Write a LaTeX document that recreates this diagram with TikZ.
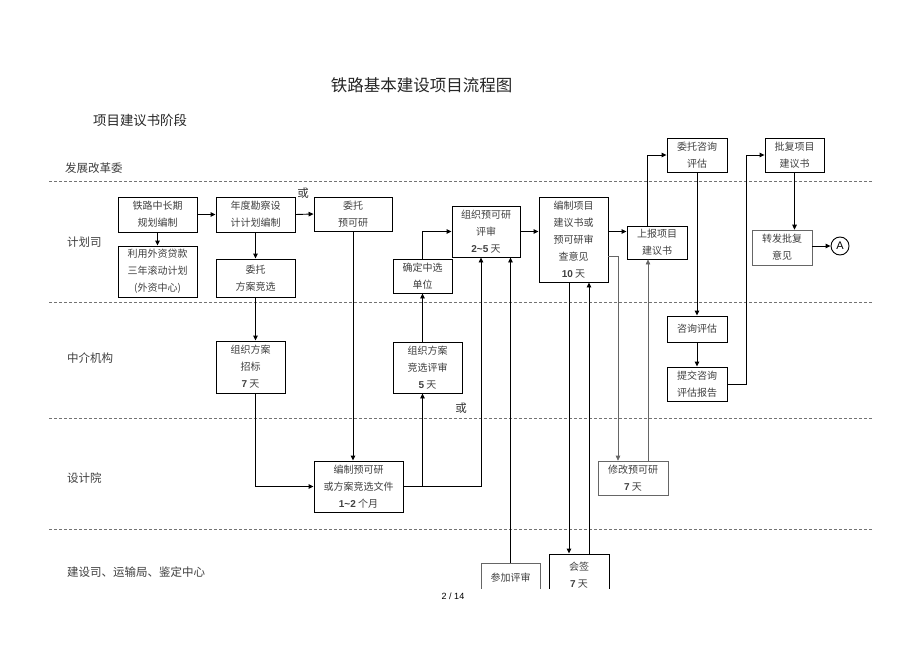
\documentclass[tikz,border=0pt]{standalone}
\usepackage{fontspec}
\setmainfont{Liberation Serif}
\setsansfont{Liberation Sans}
\newfontfamily\cjk{Noto Sans CJK SC}
\usetikzlibrary{arrows.meta}
\newcommand\bnum[1]{{\sffamily\bfseries #1}}
\begin{document}
\begin{tikzpicture}[x=1pt,y=-1pt,
  box/.style={draw=black, line width=0.9pt, fill=white, inner sep=0pt, align=center, text=black!75, font=\cjk\fontsize{10}{17}\selectfont},
  lbox/.style={box, draw=black!60, line width=0.6pt},
  conn/.style={line width=0.9pt, -{Triangle[length=5pt,width=4.5pt]}},
  lconn/.style={conn, draw=black!60, line width=0.6pt},
  plainline/.style={line width=0.9pt},
  lane/.style={draw=black!55, line width=0.6pt, dash pattern=on 3pt off 2pt},
  lanelabel/.style={anchor=west, inner sep=0pt, text=black!75, font=\cjk\fontsize{11.5}{12}\selectfont},
  orlabel/.style={inner sep=0pt, text=black!80, font=\cjk\fontsize{11.5}{12}\selectfont}]
\fill[white] (0,0) rectangle (920,650);
\useasboundingbox (0,0) rectangle (920,650);

% titles
\node[inner sep=0pt, text=black!85, font=\cjk\fontsize{16.5}{17}\selectfont] (title) at (421.5,85) {铁路基本建设项目流程图};
\node[anchor=west, inner sep=0pt, text=black!85, font=\cjk\fontsize{13.4}{14}\selectfont] (stage) at (93,120) {项目建议书阶段};

% lanes
\draw[lane] (49,181) -- (873,181);
\draw[lane] (49,302) -- (873,302);
\draw[lane] (49,418) -- (873,418);
\draw[lane] (49,529) -- (873,529);
\node[lanelabel] (l1) at (65,168) {发展改革委};
\node[lanelabel] (l2) at (67,242) {计划司};
\node[lanelabel] (l3) at (67,358) {中介机构};
\node[lanelabel] (l4) at (67,478) {设计院};
\node[lanelabel] (l5) at (67,572) {建设司、运输局、鉴定中心};

% boxes
\node[box, minimum width=79pt, minimum height=35pt] (n1) at (157.5,214.5) {铁路中长期\\规划编制};
\node[box, minimum width=79pt, minimum height=35pt] (n2) at (255.5,214.5) {年度勘察设\\计计划编制};
\node[box, minimum width=79pt, minimum height=51pt] (n3) at (157.5,271.5) {利用外资贷款\\三年滚动计划\\(外资中心)};
\node[box, minimum width=79pt, minimum height=38pt] (n4) at (255.5,278) {委托\\方案竞选};
\node[box, minimum width=78pt, minimum height=34pt] (n5) at (353,214) {委托\\预可研};
\node[box, minimum width=69pt, minimum height=52pt] (n6) at (250.5,367) {组织方案\\招标\\\bnum{7} 天};
\node[box, minimum width=89pt, minimum height=51pt] (n7) at (358.5,486.5) {编制预可研\\或方案竞选文件\\\bnum{1\textasciitilde2} 个月};
\node[box, minimum width=69pt, minimum height=51pt] (n8) at (427.5,367.5) {组织方案\\竞选评审\\\bnum{5} 天};
\node[box, minimum width=59pt, minimum height=34pt] (n9) at (422.5,276) {确定中选\\单位};
\node[box, minimum width=68pt, minimum height=51pt] (n10) at (486,231.5) {组织预可研\\评审\\\bnum{2\textasciitilde5} 天};
\node[box, minimum width=69pt, minimum height=85pt] (n11) at (573.5,239.5) {编制项目\\建议书或\\预可研审\\查意见\\\bnum{10} 天};
\node[box, minimum width=60pt, minimum height=33pt] (n12) at (657,242.5) {上报项目\\建议书};
\node[box, minimum width=60pt, minimum height=34pt] (n13) at (697,155) {委托咨询\\评估};
\node[box, minimum width=60pt, minimum height=26pt] (n14) at (697,329) {咨询评估};
\node[box, minimum width=60pt, minimum height=34pt] (n15) at (697,384) {提交咨询\\评估报告};
\node[box, minimum width=59pt, minimum height=34pt] (n16) at (794.5,155) {批复项目\\建议书};
\node[lbox, minimum width=60pt, minimum height=35pt] (n17) at (782,247.5) {转发批复\\意见};
\node[lbox, minimum width=70pt, minimum height=34pt] (n18) at (633,478) {修改预可研\\\bnum{7} 天};
\begin{scope}
\clip (0,0) rectangle (920,588);
\node[lbox, minimum width=59pt, minimum height=30pt] (n19) at (510.5,578) {参加评审};
\node[box, minimum width=60pt, minimum height=42pt] (n20) at (579,575) {会签\\\bnum{7} 天};
\end{scope}
\node[circle, draw, line width=0.9pt, minimum size=18pt, inner sep=0pt, font=\sffamily\fontsize{11}{11}\selectfont] (A) at (840,246) {A};

% labels
\node[orlabel] (or1) at (303,193) {或};
\node[orlabel] (or2) at (461,408) {或};
\node[inner sep=0pt, font=\sffamily\fontsize{9}{10}\selectfont] (pg) at (453,596) {2 / 14};

% connectors
\draw[conn] (n1.east) -- (n2.west);
\draw[conn] (n2.east) -- (n5.west);
\draw[conn] (n1.south) -- (n3.north);
\draw[conn] (n2.south) -- (n4.north);
\draw[conn] (n4.south) -- (n4.south |- n6.north);
\draw[conn] (n4.south |- n6.south) |- (n7.west);
\draw[conn] (n5.south) -- (n5.south |- n7.north);
\draw[conn] (n7.east) -| ([xshift=-5pt]n10.south);
\draw[conn] (n9.south |- n7.east) -- (n9.south |- n8.south);
\draw[conn] (n9.south |- n8.north) -- (n9.south);
\draw[conn] (n9.north) |- (n10.west);
\draw[conn] (n10.east) -- (n10.east -| n11.west);
\draw[conn] (n11.east |- n10.east) -- (n12.west |- n10.east);
\draw[conn] ([xshift=-10pt]n20.north |- n11.south) -- ([xshift=-10pt]n20.north);
\draw[conn] ([xshift=10pt]n20.north) -- ([xshift=10pt]n20.north |- n11.south);
\draw[lconn] ([yshift=-16.5pt]n11.east) -| ([xshift=-15pt]n18.north);
\draw[lconn] ([xshift=15pt]n18.north) -- ([xshift=15pt]n18.north |- n12.south);
\draw[conn] ([xshift=-10pt]n12.north) |- (n13.west);
\draw[conn] (n13.south) -- (n14.north);
\draw[conn] (n14.south) -- (n15.north);
\draw[conn] (n15.east) -- ++(19,0) |- (n16.west);
\draw[conn] (n16.south) -- (n16.south |- n17.north);
\draw[conn] (n17.east |- A.west) -- (A.west);
\draw[conn] (n19.north) -- (n19.north |- n10.south);
\end{tikzpicture}
\end{document}
